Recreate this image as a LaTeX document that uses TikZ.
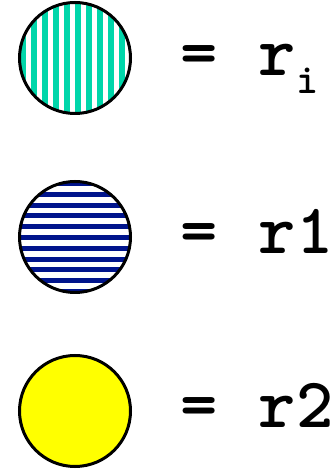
\documentclass[tikz,border=0pt]{standalone}
\usepackage{fontspec}
\usetikzlibrary{positioning}
\definecolor{stripegreen}{RGB}{0,214,170}
\definecolor{stripenavy}{RGB}{0,20,140}
\definecolor{keyyellow}{RGB}{255,255,0}
\tikzset{
  key/.style={draw,circle,line width=3pt,minimum size=111pt,inner sep=0pt},
  eqtext/.style={font=\ttfamily\bfseries\fontsize{71}{71}\selectfont,anchor=base west,inner sep=0pt},
  subtext/.style={font=\ttfamily\bfseries\fontsize{42}{42}\selectfont,anchor=base west,inner sep=0pt},
  vstripes/.style={path picture={
    \foreach \k in {-6,...,5}{
      \fill[#1] ([xshift=\k*11pt]path picture bounding box.center) ++(0,-60pt) rectangle ++(5.5pt,120pt);
    }}},
  hstripes/.style={path picture={
    \foreach \k in {-6,...,5}{
      \fill[#1] ([yshift=\k*10.8pt-3pt]path picture bounding box.center) ++(-60pt,0) rectangle ++(120pt,5pt);
    }}},
}
\begin{document}
\begin{tikzpicture}[x=1pt,y=1pt]
  \useasboundingbox (0,0) rectangle (334,470);
  % key circles
  \node[key,vstripes=stripegreen] (ci) at (75,412) {};
  \node[key,hstripes=stripenavy] (cone) at (75,233) {};
  \node[key,fill=keyyellow] (ctwo) at (75,59) {};
  % labels
  \node[eqtext] (ri) at (180,394) {=\hspace{4pt} r};
  \node[subtext] (risub) at ([xshift=0.5pt,yshift=-18pt]ri.base east) {i};
  \node[eqtext] (rone) at (180,216) {=\hspace{4pt} r1};
  \node[eqtext] (rtwo) at (180,42) {=\hspace{4pt} r2};
\end{tikzpicture}
\end{document}
